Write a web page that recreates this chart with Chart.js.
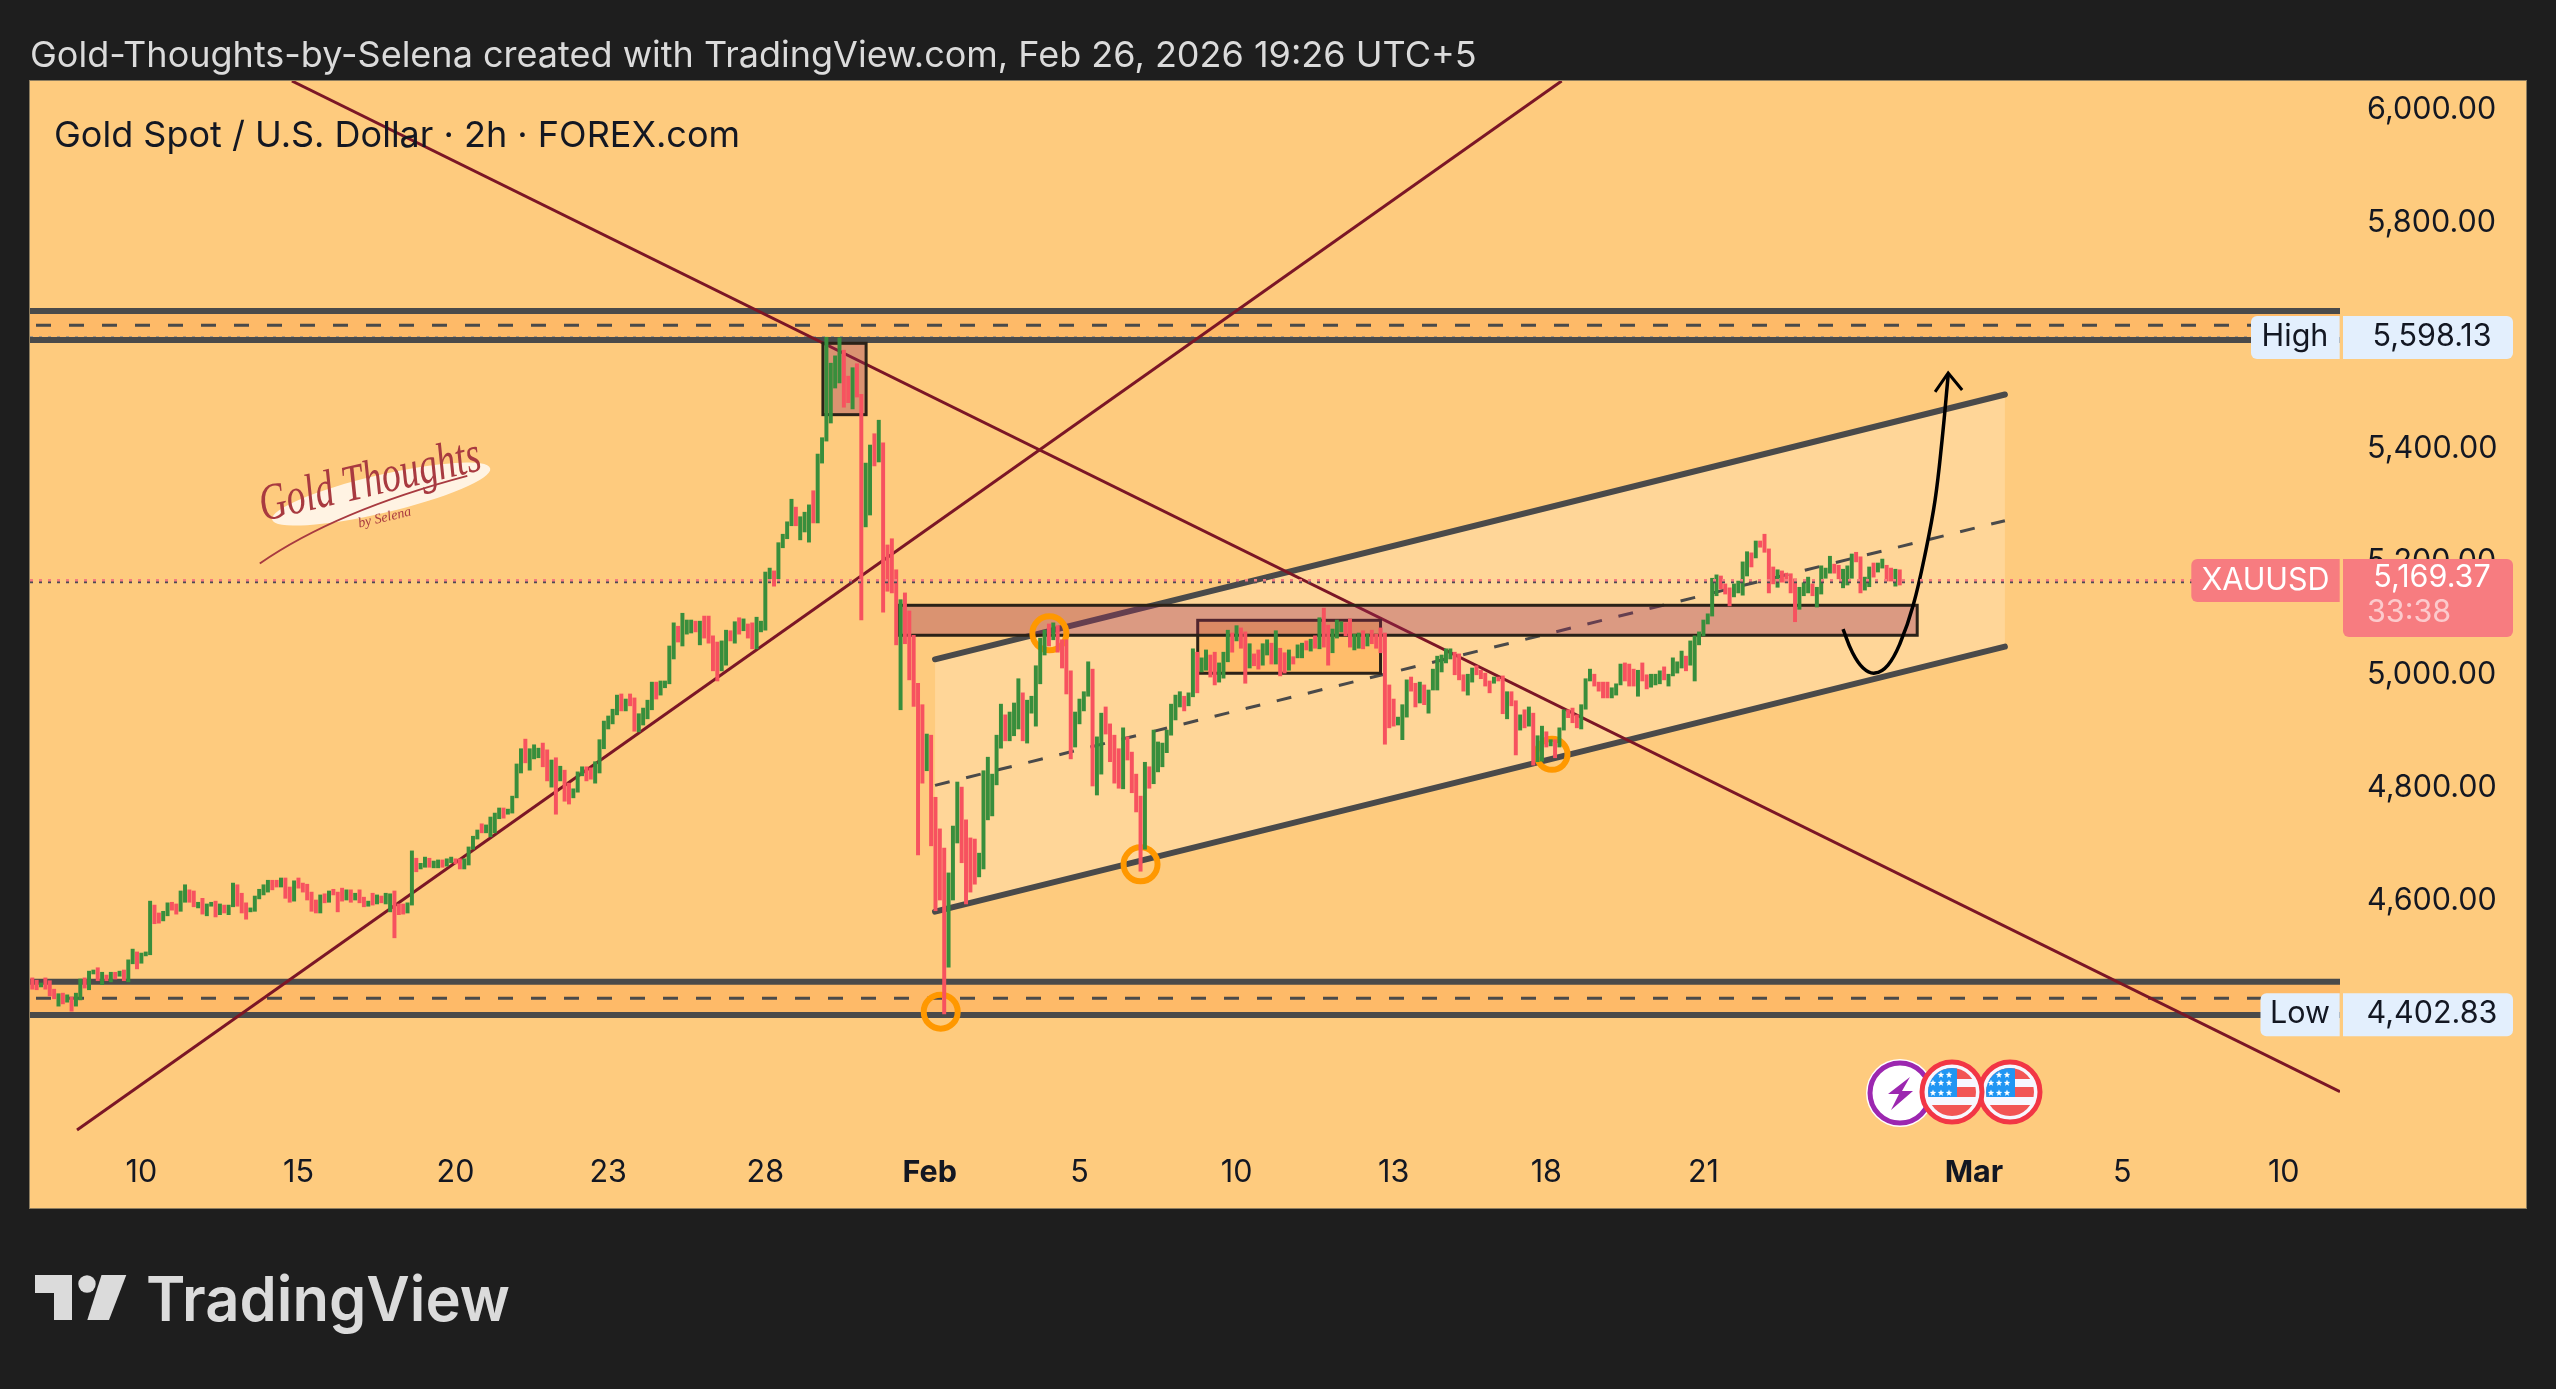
<!DOCTYPE html>
<html>
<head>
<meta charset="utf-8">
<title>Gold Spot / U.S. Dollar</title>
<script src="https://cdn.jsdelivr.net/npm/chart.js@4/dist/chart.umd.min.js"></script>
<style>
  html, body { margin: 0; padding: 0; background: #1e1e1e; }
  canvas { display: block; }
</style>
</head>
<body>
<canvas id="goldChart" width="2556" height="1389"></canvas>
<script>
// 2h high-low bars, one entry per bar
const barHigh = [
  4468,4464,4459,4468,4463,4448,4440,4441,4438,4434,
  4441,4466,4468,4480,4482,4486,4478,4473,4478,4478,
  4480,4482,4500,4519,4514,4512,4514,4604,4597,4583,
  4586,4601,4602,4599,4622,4633,4624,4622,4602,4609,
  4599,4602,4604,4599,4597,4597,4636,4633,4618,4601,
  4592,4613,4625,4633,4641,4641,4641,4645,4645,4629,
  4640,4645,4636,4634,4620,4606,4615,4617,4622,4625,
  4620,4627,4624,4624,4618,4624,4611,4604,4618,4615,
  4613,4618,4617,4622,4599,4599,4601,4693,4680,4671,
  4682,4680,4675,4677,4677,4679,4682,4679,4679,4679,
  4700,4719,4730,4741,4739,4753,4760,4769,4769,4767,
  4790,4847,4874,4891,4874,4881,4875,4884,4872,4854,
  4858,4843,4836,4813,4803,4833,4842,4842,4840,4851,
  4890,4923,4932,4944,4969,4971,4962,4971,4964,4936,
  4946,4960,4992,4992,4994,4994,5056,5097,5091,5114,
  5102,5102,5100,5100,5109,5109,5074,5063,5065,5084,
  5083,5099,5106,5104,5095,5097,5107,5100,5187,5194,
  5189,5239,5254,5276,5316,5302,5285,5293,5306,5331,
  5396,5425,5603,5557,5570,5602,5580,5534,5549,5556,
  5502,5380,5412,5432,5456,5416,5235,5246,5191,5138,
  5150,5118,5075,4990,4952,4900,4898,4788,4732,4698,
  4654,4737,4815,4806,4748,4716,4714,4689,4835,4859,
  4829,4898,4953,4934,4939,4955,4998,4973,4960,4967,
  5021,5070,5084,5095,5097,5092,5067,5067,5012,4939,
  4962,4975,5028,5015,4895,4937,4948,4918,4898,4874,
  4911,4895,4868,4829,4790,4850,4842,4907,4886,4884,
  4907,4953,4969,4975,4967,4973,5051,5045,5035,5049,
  5040,5045,5026,5045,5084,5079,5092,5088,5081,5060,
  5042,5049,5060,5067,5061,5083,5052,5044,5049,5037,
  5058,5061,5065,5068,5074,5106,5123,5093,5086,5102,
  5099,5097,5104,5077,5079,5083,5077,5084,5077,5088,
  5079,4987,4962,4930,4952,4996,5001,4990,4992,4987,
  4978,5015,5038,5040,5051,5051,5045,5042,5005,5006,
  5017,5021,5013,5008,4994,5001,5001,5003,4975,4975,
  4959,4934,4943,4948,4937,4897,4914,4904,4890,4890,
  4911,4943,4943,4946,4934,4952,4998,5015,5006,4992,
  4992,4992,4982,4989,5024,5026,5024,5015,5013,5026,
  5005,5006,5006,5012,5019,5006,5035,5028,5047,5038,
  5065,5074,5081,5102,5113,5176,5182,5180,5166,5159,
  5166,5171,5205,5223,5221,5242,5242,5254,5228,5196,
  5191,5189,5185,5184,5175,5160,5168,5178,5166,5160,
  5198,5194,5215,5201,5199,5192,5198,5219,5222,5214,
  5178,5196,5203,5203,5210,5199,5194,5192,5191
];
const barLow = [
  4448,4447,4452,4448,4436,4431,4418,4422,4425,4409,
  4418,4429,4450,4447,4475,4463,4456,4463,4461,4466,
  4471,4463,4461,4493,4484,4494,4507,4509,4564,4565,
  4569,4578,4588,4581,4586,4602,4602,4594,4592,4581,
  4578,4595,4576,4580,4583,4580,4594,4595,4583,4572,
  4585,4586,4608,4615,4620,4624,4629,4629,4609,4602,
  4604,4627,4620,4606,4586,4583,4583,4601,4602,4615,
  4585,4604,4606,4602,4606,4601,4594,4595,4597,4599,
  4601,4599,4585,4539,4580,4581,4583,4597,4656,4661,
  4664,4664,4663,4663,4664,4666,4672,4670,4661,4661,
  4668,4696,4714,4725,4725,4718,4725,4750,4751,4758,
  4760,4787,4831,4849,4836,4856,4858,4842,4817,4806,
  4758,4817,4781,4776,4787,4797,4826,4817,4820,4813,
  4831,4874,4909,4918,4934,4941,4941,4950,4905,4904,
  4916,4927,4943,4962,4969,4982,4989,5033,5063,5056,
  5077,5079,5081,5058,5070,5061,5012,4994,5012,5022,
  5065,5061,5077,5083,5070,5051,5051,5081,5084,5175,
  5162,5175,5230,5246,5269,5269,5244,5258,5240,5274,
  5274,5380,5419,5451,5513,5522,5479,5487,5476,5497,
  5102,5267,5288,5375,5382,5116,5153,5150,5058,4943,
  5060,4996,4949,4686,4813,4835,4702,4587,4606,4404,
  4487,4606,4707,4672,4599,4620,4634,4647,4661,4748,
  4755,4810,4875,4888,4888,4897,4909,4888,4884,4937,
  4914,4989,5040,5056,5067,5045,5017,4971,4856,4877,
  4918,4941,4967,4808,4792,4829,4900,4851,4813,4804,
  4803,4854,4796,4762,4657,4696,4804,4812,4833,4842,
  4867,4898,4925,4948,4941,4950,4966,4973,5010,5013,
  5001,4987,4992,4999,5028,5045,5065,5052,4990,5017,
  5021,5015,5022,5040,5024,5024,5003,5008,5013,5024,
  5035,5035,5049,5047,5052,5051,5054,5022,5044,5070,
  5081,5074,5054,5049,5052,5051,5056,5060,5052,5044,
  4882,4911,4914,4916,4890,4930,4976,4948,4955,4952,
  4937,4978,4978,5010,5026,5033,5005,4996,4976,4969,
  4992,5005,4998,4985,4973,4990,4994,4936,4927,4950,
  4863,4907,4911,4914,4845,4851,4852,4877,4879,4858,
  4877,4907,4929,4920,4911,4909,4944,4994,4985,4976,
  4964,4964,4964,4969,4987,4994,4985,4985,4967,4994,
  4980,4983,4987,4989,4996,4985,5003,5008,5017,5012,
  5022,4994,5058,5074,5095,5109,5145,5157,5148,5127,
  5143,5150,5146,5180,5196,5212,5231,5222,5150,5166,
  5160,5169,5168,5150,5099,5121,5145,5150,5145,5125,
  5148,5176,5185,5185,5175,5159,5164,5176,5205,5150,
  5155,5161,5178,5187,5194,5171,5171,5162,5164
];
// 1 = green bar, 0 = red bar
const barUp = [
  0,0,1,0,0,0,1,0,1,0, 1,1,0,1,1,0,1,0,1,0, 1,0,1,1,0,1,1,1,0,0,
  1,1,0,0,1,1,0,0,1,0, 1,1,0,1,0,1,1,0,0,0, 1,1,1,1,1,0,0,1,0,0,
  1,0,0,0,0,0,1,0,1,0, 0,0,1,0,1,0,0,1,0,1, 0,1,1,0,0,0,1,1,0,1,
  1,0,1,1,0,1,1,0,0,1, 1,1,1,0,1,1,1,1,0,1, 1,1,1,0,1,1,1,0,0,1,
  0,1,0,0,1,1,1,0,0,1, 1,1,1,1,1,0,1,0,0,1, 1,1,1,0,1,1,1,1,0,1,
  1,1,0,1,0,0,0,0,1,1, 0,1,0,1,0,0,1,1,1,1, 0,1,1,1,1,0,1,1,1,0,
  1,1,1,1,1,1,0,0,1,0, 0,1,1,0,1,0,0,0,0,1, 0,0,0,0,0,1,0,0,0,0,
  1,1,1,0,0,0,0,1,1,1, 1,1,1,0,1,1,1,0,1,1, 1,1,1,0,1,0,0,0,0,1,
  1,1,1,0,1,1,0,0,0,0, 1,0,0,0,0,1,0,1,1,1, 1,1,1,1,0,1,1,0,1,1,
  0,0,1,1,1,0,1,0,0,1, 0,0,1,1,0,1,0,0,1,0, 1,1,0,1,0,1,0,0,1,1,
  1,0,0,1,1,0,1,0,0,0, 0,0,0,1,1,1,0,0,1,0, 1,1,1,1,1,1,0,0,0,1,
  1,0,0,0,0,1,0,0,1,0, 0,1,0,1,0,1,1,0,1,0, 1,1,0,0,0,1,1,1,0,0,
  0,0,1,1,1,0,0,0,1,0, 0,1,1,1,0,1,1,1,1,0, 1,1,1,1,1,1,1,0,0,0,
  1,1,1,1,0,1,0,0,0,0, 1,0,0,0,0,1,1,1,0,1, 1,1,1,0,0,1,1,1,0,0,
  1,1,0,1,1,0,0,1,0
];

// axes
const priceTicks = [6000, 5800, 5400, 5200, 5000, 4800, 4600];
const dateTicks = [25, 61, 97, 132, 168, 205.7, 240, 276, 312, 347, 383, 445, 479, 516];
const dateLabels = ['10', '15', '20', '23', '28', 'Feb', '5', '10', '13', '18', '21', 'Mar', '5', '10'];
const boldLabels = ['Feb', 'Mar'];
const priceMin = 4177.3, priceMax = 6056.9;
const barMin = -0.527, barMax = 528.9;

// price marks
const lastPrice = 5169.37, lastPriceLine = 5172.4;
const highPrice = 5598.13, highLine = 5602;
const lowPrice = 4402.83;
const highZone = [5649.5, 5624, 5598];
const lowZone = [4461.3, 4431.9, 4402.3];

// drawings as [bar, price] anchors
const riseLine = [[10.25, 4198.6], [350.5, 6056.9]];
const fallLine = [[59.5, 6056.9], [528.9, 4266.4]];
const channelTop = [[206.9, 5032.4], [452.1, 5501.5]];
const channelMid = [[206.9, 4809], [452.1, 5278]];
const channelBottom = [[206.9, 4585.3], [452.1, 5054.8]];
const touchCircles = [[233.1, 5078.5], [254, 4669.3], [208.2, 4408.2], [348.3, 4864.1]];
const pathCurve = [[415, 5086], [417.1, 5045.4], [419.6, 5017], [422.3, 5008], [425.3, 5022.3], [428.1, 5061.3],
  [431.1, 5128.6], [434, 5226], [436.1, 5314.6], [437.7, 5421], [439.1, 5536]];
const pathArrow = [[436.1, 5506], [439.1, 5539.6], [442.3, 5509.5]];
// boxes as [bar from, bar to, price top, price bottom]
const peakBox = [181.2, 191.1, 5592.2, 5465.8];
const supplyBox = [198.5, 432, 5128.1, 5075];
const rangeBox = [267.1, 309, 5101.5, 5007.7];

const FONT = 'Inter, "Noto Sans", sans-serif';
const GREEN = '#388e3c', RED = '#f7525f', DARK = '#4a4a4a', MAROON = '#7b1626';
const TAG_RED = '#f77c80', TAG_BLUE = '#e3effd', INK = '#131722';
const AXIS_SIZE = 30.5;

function points(anchors) {
  return anchors.map(function (a) { return { x: a[0], y: a[1] }; });
}

function flatLine(price, color, width, dash, offset, order) {
  return {
    type: 'line',
    data: [{ x: barMin, y: price }, { x: barMax, y: price }],
    borderColor: color,
    borderWidth: width,
    borderDash: dash || [],
    borderDashOffset: offset || 0,
    pointRadius: 0,
    order: order
  };
}

function trendLine(anchors, color, width, dash, order, extra) {
  return Object.assign({
    type: 'line',
    data: points(anchors),
    borderColor: color,
    borderWidth: width,
    borderDash: dash || [],
    pointRadius: 0,
    order: order
  }, extra || {});
}

const bars = barHigh.map(function (h, i) { return { x: i, y: [barLow[i], h] }; });

const datasets = [
  // price line, two rows of dots
  flatLine(lastPriceLine, TAG_RED, 2.5, [3, 6], 0, 0),
  flatLine(lastPrice, '#4b4b55', 2.5, [3, 6], 0, 0),
  // forecast path
  trendLine(pathCurve, '#000000', 3.5, [], 0, { tension: 0.4 }),
  trendLine(pathArrow, '#000000', 3, [], 0),
  {
    type: 'bar',
    data: bars,
    backgroundColor: barUp.map(function (u) { return u ? GREEN : RED; }),
    barThickness: 3.3,
    grouped: false,
    order: 1
  },
  {
    type: 'line',
    data: points(touchCircles),
    showLine: false,
    pointRadius: [17, 17, 17, 15.5],
    pointBorderWidth: 6,
    pointBorderColor: '#ff9800',
    pointBackgroundColor: 'rgba(0,0,0,0)',
    order: 2
  },
  trendLine(riseLine, MAROON, 3, [], 3),
  trendLine(fallLine, MAROON, 3, [], 3),
  // channel, the fill goes between the next two
  trendLine(channelTop, DARK, 6, [], 6, { fill: '+1', backgroundColor: '#ffd698', borderCapStyle: 'round' }),
  trendLine(channelBottom, DARK, 6, [], 4, { borderCapStyle: 'round' }),
  trendLine(channelMid, DARK, 3, [15, 17], 4),
  // high and low zones
  Object.assign(flatLine(highZone[0], DARK, 6, [], 0, 7), { fill: '+1', backgroundColor: '#feba68' }),
  flatLine(highZone[2], DARK, 6, [], 0, 5),
  flatLine(highZone[1], DARK, 3, [15, 18], 27, 5),
  flatLine(highLine, '#8c8c8c', 3, [3, 6], 0, 5),
  Object.assign(flatLine(lowZone[0], DARK, 6, [], 0, 7), { fill: '+1', backgroundColor: '#feba68' }),
  flatLine(lowZone[2], DARK, 6, [], 0, 5),
  flatLine(lowZone[1], DARK, 3, [15, 18], 27, 5),
  flatLine(lowPrice, '#8c8c8c', 3, [3, 6], 0, 5)
];
const circlesIndex = 5;

function roundBox(ctx, x, y, w, h, radii, color) {
  ctx.fillStyle = color;
  ctx.beginPath();
  ctx.roundRect(x, y, w, h, radii);
  ctx.fill();
}

function label(ctx, text, x, y, font, color, align, maxWidth) {
  ctx.font = font;
  ctx.fillStyle = color;
  ctx.textAlign = align || 'left';
  ctx.textBaseline = 'middle';
  if (maxWidth) ctx.fillText(text, x, y, maxWidth);
  else ctx.fillText(text, x, y);
}

function drawBox(chart, box, fill) {
  const ctx = chart.ctx, sx = chart.scales.x, sy = chart.scales.y;
  const x0 = sx.getPixelForValue(box[0]), x1 = sx.getPixelForValue(box[1]);
  const y0 = sy.getPixelForValue(box[2]), y1 = sy.getPixelForValue(box[3]);
  ctx.save();
  ctx.fillStyle = fill;
  ctx.fillRect(x0, y0, x1 - x0, y1 - y0);
  ctx.strokeStyle = '#2b2218';
  ctx.lineWidth = 3;
  ctx.strokeRect(x0, y0, x1 - x0, y1 - y0);
  ctx.restore();
}

function drawStar(ctx, cx, cy, r) {
  ctx.beginPath();
  for (let i = 0; i < 10; i++) {
    const a = -Math.PI / 2 + i * Math.PI / 5;
    const q = i % 2 ? r * 0.42 : r;
    ctx.lineTo(cx + q * Math.cos(a), cy + q * Math.sin(a));
  }
  ctx.closePath();
  ctx.fill();
}

function drawFlag(ctx, cx, cy) {
  ctx.save();
  ctx.fillStyle = '#f7f7ff';
  ctx.beginPath();
  ctx.arc(cx, cy, 30, 0, Math.PI * 2);
  ctx.fill();
  ctx.strokeStyle = '#f23645';
  ctx.lineWidth = 5;
  ctx.stroke();
  ctx.beginPath();
  ctx.arc(cx, cy, 24, 0, Math.PI * 2);
  ctx.clip();
  ctx.fillStyle = '#f25555';
  ctx.fillRect(cx - 24, cy - 24, 48, 11);
  ctx.fillRect(cx - 24, cy - 5, 48, 10);
  ctx.fillRect(cx - 24, cy + 13, 48, 12);
  ctx.fillStyle = '#2196f3';
  ctx.fillRect(cx - 24, cy - 24, 29, 29);
  ctx.fillStyle = '#ffffff';
  [-17, -9, 1].forEach(function (dy, row) {
    [-19, -11, -3].forEach(function (dx, col) {
      if (row === 0 && col === 0) return;
      drawStar(ctx, cx + dx, cy + dy, 3.4);
    });
  });
  ctx.restore();
}

function drawBolt(ctx, cx, cy) {
  ctx.save();
  ctx.fillStyle = '#ffffff';
  ctx.beginPath();
  ctx.arc(cx, cy, 34, 0, Math.PI * 2);
  ctx.fill();
  ctx.strokeStyle = '#9c27b0';
  ctx.lineWidth = 5;
  ctx.beginPath();
  ctx.arc(cx, cy, 30, 0, Math.PI * 2);
  ctx.stroke();
  ctx.fillStyle = '#9c27b0';
  ctx.beginPath();
  ctx.moveTo(cx + 10, cy - 16);
  ctx.lineTo(cx - 12, cy + 1);
  ctx.lineTo(cx - 1, cy + 1);
  ctx.lineTo(cx - 9, cy + 17);
  ctx.lineTo(cx + 13, cy - 2);
  ctx.lineTo(cx + 2, cy - 2);
  ctx.closePath();
  ctx.fill();
  ctx.restore();
}

function drawWatermark(ctx) {
  ctx.save();
  ctx.translate(372, 490);
  ctx.rotate(-0.23);
  ctx.fillStyle = 'rgba(255,250,245,0.85)';
  ctx.beginPath();
  ctx.ellipse(8, 6, 112, 19, 0, 0, Math.PI * 2);
  ctx.fill();
  ctx.strokeStyle = '#a83a40';
  ctx.lineWidth = 2;
  ctx.beginPath();
  ctx.moveTo(-126, 46);
  ctx.quadraticCurveTo(-40, 12, 96, 8);
  ctx.stroke();
  label(ctx, 'Gold Thoughts', 0, -8, 'italic 52px "Liberation Serif", serif', '#a83a40', 'center', 226);
  label(ctx, 'by Selena', 6, 30, 'italic 14px "Liberation Serif", serif', '#a83a40', 'center');
  ctx.restore();
}

function drawLogo(ctx) {
  ctx.save();
  ctx.fillStyle = '#dbdbdb';
  ctx.fillRect(35, 1275, 37, 18);
  ctx.fillRect(54, 1293, 18, 27);
  ctx.beginPath();
  ctx.arc(87, 1284, 8.7, 0, Math.PI * 2);
  ctx.fill();
  ctx.beginPath();
  ctx.moveTo(101.5, 1275);
  ctx.lineTo(126.3, 1275);
  ctx.lineTo(109, 1320);
  ctx.lineTo(87.3, 1320);
  ctx.closePath();
  ctx.fill();
  ctx.restore();
  label(ctx, 'TradingView', 146, 1302, '600 62px ' + FONT, '#dbdbdb', 'left', 364);
}

const tvLook = {
  id: 'tvLook',
  beforeDraw: function (chart) {
    const ctx = chart.ctx;
    ctx.save();
    ctx.fillStyle = '#1e1e1e';
    ctx.fillRect(0, 0, 2556, 1389);
    ctx.fillStyle = '#fecb7e';
    ctx.fillRect(30, 81, 2496, 1127);
    ctx.strokeStyle = '#8d7d5f';
    ctx.lineWidth = 1;
    ctx.strokeRect(29.5, 80.5, 2497, 1128);
    ctx.restore();
  },
  beforeDatasetDraw: function (chart, args) {
    if (args.index !== circlesIndex) return;
    drawBox(chart, peakBox, 'rgba(152,43,88,0.35)');
    drawBox(chart, rangeBox, 'rgba(255,152,40,0.4)');
    drawBox(chart, supplyBox, 'rgba(152,43,88,0.35)');
  },
  afterDraw: function (chart) {
    const ctx = chart.ctx;
    const sy = chart.scales.y;
    const tagFont = AXIS_SIZE + 'px ' + FONT;
    const priceFmt = { minimumFractionDigits: 2 };
    ctx.save();

    label(ctx, 'Gold-Thoughts-by-Selena created with TradingView.com, Feb 26, 2026 19:26 UTC+5', 30, 56, '36px ' + FONT, '#dbdbdb');
    label(ctx, 'Gold Spot / U.S. Dollar · 2h · FOREX.com', 54, 136, '36px ' + FONT, INK);

    // high tag
    const highY = sy.getPixelForValue(highPrice) - 3;
    roundBox(ctx, 2251, highY - 21, 88.7, 43, [6, 0, 0, 6], TAG_BLUE);
    roundBox(ctx, 2343, highY - 21, 170, 43, [0, 6, 6, 0], TAG_BLUE);
    label(ctx, 'High', 2295, highY, tagFont, INK, 'center');
    label(ctx, highPrice.toLocaleString('en-US', priceFmt), 2432, highY, tagFont, INK, 'center');

    // low tag
    const lowY = sy.getPixelForValue(lowPrice) - 0.5;
    roundBox(ctx, 2260.5, lowY - 21, 79.2, 43, [6, 0, 0, 6], TAG_BLUE);
    roundBox(ctx, 2343, lowY - 21, 170, 43, [0, 6, 6, 0], TAG_BLUE);
    label(ctx, 'Low', 2300, lowY, tagFont, INK, 'center');
    label(ctx, lowPrice.toLocaleString('en-US', priceFmt), 2432, lowY, tagFont, INK, 'center');

    // last price tag
    roundBox(ctx, 2191.3, 559, 148.4, 43, [6, 0, 0, 6], TAG_RED);
    roundBox(ctx, 2343, 559, 170, 78, [0, 6, 6, 6], TAG_RED);
    label(ctx, 'XAUUSD', 2265.5, 581, tagFont, '#ffffff', 'center');
    label(ctx, lastPrice.toLocaleString('en-US', priceFmt), 2432, 578, tagFont, '#ffffff', 'center');
    label(ctx, '33:38', 2367, 613, tagFont, 'rgba(255,255,255,0.6)');

    drawWatermark(ctx);
    drawBolt(ctx, 1900, 1093);
    drawFlag(ctx, 2010, 1092);
    drawFlag(ctx, 1952, 1092);
    drawLogo(ctx);
    ctx.restore();
  }
};

new Chart(document.getElementById('goldChart'), {
  type: 'bar',
  data: { datasets: datasets },
  plugins: [tvLook],
  options: {
    responsive: false,
    devicePixelRatio: 1,
    animation: false,
    layout: { padding: { left: 30, right: 30, top: 81, bottom: 181 } },
    plugins: { legend: { display: false }, tooltip: { enabled: false } },
    scales: {
      x: {
        type: 'linear',
        offset: false, // bar charts turn this on, it would widen the bar range
        min: barMin,
        max: barMax,
        grid: { display: false, drawTicks: false },
        border: { display: false },
        afterFit: function (scale) { scale.height = 66; },
        afterBuildTicks: function (scale) {
          scale.ticks = dateTicks.map(function (v) { return { value: v }; });
        },
        ticks: {
          autoSkip: false,
          maxRotation: 0,
          padding: 13,
          color: INK,
          font: function (ctx) {
            const isBold = ctx.tick && boldLabels.indexOf(dateLabels[ctx.index]) >= 0;
            return { family: FONT, size: AXIS_SIZE, weight: isBold ? '700' : '400' };
          },
          callback: function (value, index) { return dateLabels[index]; }
        }
      },
      y: {
        type: 'linear',
        position: 'right',
        min: priceMin,
        max: priceMax,
        grid: { display: false, drawTicks: false },
        border: { display: false },
        afterFit: function (scale) { scale.width = 186; },
        afterBuildTicks: function (scale) {
          scale.ticks = priceTicks.map(function (v) { return { value: v }; });
        },
        ticks: {
          autoSkip: false,
          padding: 27,
          labelOffset: -3,
          color: INK,
          font: { family: FONT, size: AXIS_SIZE },
          callback: function (value) {
            return value.toLocaleString('en-US', { minimumFractionDigits: 2 });
          }
        }
      }
    }
  }
});
</script>
</body>
</html>
